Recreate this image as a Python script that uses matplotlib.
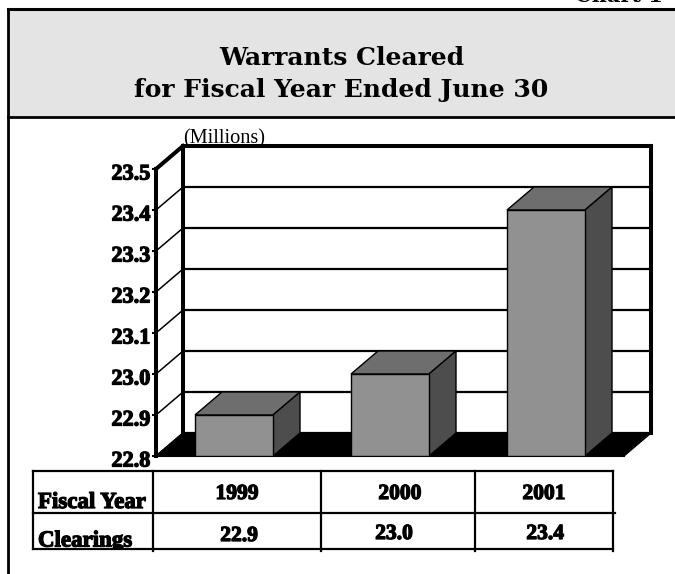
import numpy as np
import matplotlib
matplotlib.use('Agg')
import matplotlib.pyplot as plt
import matplotlib.patheffects as pe
from matplotlib.patches import Polygon, Rectangle
from matplotlib.transforms import ScaledTranslation

years = ['1999', '2000', '2001']
clearings = [22.9, 23.0, 23.4]
y_ticks = [22.8, 22.9, 23.0, 23.1, 23.2, 23.3, 23.4, 23.5]
title_lines = ['Warrants Cleared', 'for Fiscal Year Ended June 30']
row_labels = ['Fiscal Year', 'Clearings']

SERIF = 'Liberation Serif'
heavy = [pe.withStroke(linewidth=0.9, foreground='black')]

# depth of the 3d box, in data units
depth_x = 27 / 156
depth_y = 0.0561
bar_w = 0.5
y0 = 22.8
y1 = 23.5

fig = plt.figure(figsize=(6.75, 5.74), dpi=100)

# page layer in pixels: frame, title band, table
page = fig.add_axes([0, 0, 1, 1])
page.set_xlim(0, 675)
page.set_ylim(574, 0)
page.axis('off')

page.add_patch(Rectangle((8, 9), 675, 108, fc='#e4e4e4', ec='none'))
page.plot([8, 8], [9, 574], color='black', lw=2)
page.plot([8, 675], [9, 9], color='black', lw=2.2)
page.plot([8, 675], [117, 117], color='black', lw=2)
page.text(342, 65, title_lines[0], family='DejaVu Serif', weight='bold', fontsize=18,
          ha='center', va='baseline')
page.text(341, 97, title_lines[1], family='DejaVu Serif', weight='bold', fontsize=18,
          ha='center', va='baseline')
page.text(663, 2, 'Chart 1', family='DejaVu Serif', weight='bold', fontsize=15,
          ha='right', va='baseline')
page.text(224, 139, '(Millions)', family=SERIF, fontsize=14.6, ha='center', va='center')

# table
col_x = [153, 321, 475, 613]
page.plot([33, 613], [471, 471], color='black', lw=1.6)
page.plot([33, 615], [513, 513], color='black', lw=1.6)
page.plot([33, 613], [549, 549], color='black', lw=1.6)
page.plot([33, 33], [471, 549], color='black', lw=1.6)
for x in col_x:
    page.plot([x, x], [471, 551], color='black', lw=1.6)

label_font = dict(family=SERIF, weight='bold', fontsize=15.5, path_effects=heavy)
page.text(38, 508, row_labels[0], ha='left', va='baseline',
          family=SERIF, weight='bold', fontsize=16.5, path_effects=heavy)
# descenders stop at the bottom rule of the table
clear_txt = page.text(38, 546.5, row_labels[1], ha='left', va='baseline',
                      family=SERIF, weight='bold', fontsize=16.5, path_effects=heavy)
clear_txt.set_clip_path(Rectangle((33, 513), 120, 36, transform=page.transData))
clear_txt.set_clip_on(True)
year_x = [237, 400, 544]
value_x = [239, 394, 545]
value_y = [536, 534, 534]
for i in range(3):
    page.text(year_x[i], 494, years[i], ha='center', va='center', **label_font)
    page.text(value_x[i], value_y[i], '%.1f' % clearings[i], ha='center', va='center', **label_font)

# chart layer: x in category positions, y in millions at the front plane
ax = fig.add_axes([156 / 675, 1 - 456 / 574, 468 / 675, 287 / 574])
ax.patch.set_alpha(0)
ax.set_xlim(-0.5, 2.5)
ax.set_ylim(y0, y1)
for s in ax.spines.values():
    s.set_visible(False)
ax.set_xticks([])
ax.set_yticks(y_ticks)
ax.set_yticklabels(['%.1f' % v for v in y_ticks], family=SERIF, weight='bold', fontsize=16,
                   path_effects=heavy)
ax.tick_params(axis='y', length=3, width=1.5, pad=1)
shift = ScaledTranslation(0, -3 / 100, fig.dpi_scale_trans)
for lab in ax.get_yticklabels():
    lab.set_transform(lab.get_transform() + shift)

xl = -0.5
xr = 2.5
# floor
ax.add_patch(Polygon([(xl, y0), (xr, y0), (xr + depth_x, y0 + depth_y), (xl + depth_x, y0 + depth_y)],
                     fc='black', ec='black', lw=1, clip_on=False, zorder=1))
# back wall gridlines and the diagonals on the side wall
for v in y_ticks:
    top = v == y1
    ax.plot([xl + depth_x, xr + depth_x], [v + depth_y, v + depth_y], color='black',
            lw=2.9 if top else 1.6, clip_on=False, zorder=1.5, solid_capstyle='projecting')
    ax.plot([xl, xl + depth_x], [v, v + depth_y], color='black',
            lw=2.9 if top else 1.1, clip_on=False, zorder=1.5)
ax.plot([xl + depth_x, xl + depth_x], [y0 + depth_y, y1 + depth_y], color='black', lw=2.9,
        clip_on=False, zorder=1.5)
ax.plot([xr + depth_x, xr + depth_x], [y0 + depth_y, y1 + depth_y], color='black', lw=2.9,
        clip_on=False, zorder=1.5)
ax.plot([xl, xl], [y0, y1], color='black', lw=2.9, clip_on=False, zorder=1.5)
ax.plot([xl, xr], [y0, y0], color='black', lw=1.5, clip_on=False, zorder=1.5)

# bars
for i, v in enumerate(clearings):
    a = i - bar_w / 2
    b = i + bar_w / 2
    ax.add_patch(Polygon([(a, v), (b, v), (b + depth_x, v + depth_y), (a + depth_x, v + depth_y)],
                         fc='#6e6e6e', ec='black', lw=1, zorder=3, clip_on=False))
    ax.add_patch(Polygon([(b, y0), (b + depth_x, y0 + depth_y), (b + depth_x, v + depth_y), (b, v)],
                         fc='#4d4d4d', ec='black', lw=1, zorder=3, clip_on=False))
    ax.bar(i, v - y0, bottom=y0, width=bar_w, color='#919191', edgecolor='black', lw=1, zorder=4)

fig.savefig('out.png', dpi=100)
